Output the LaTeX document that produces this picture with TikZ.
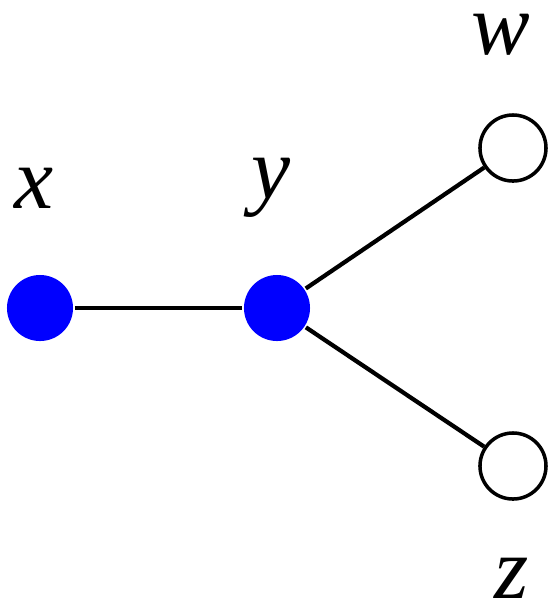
\documentclass[tikz,border=0pt]{standalone}
\usepackage{fontspec}
\usepackage{tikz}
\newfontfamily\labelfont{Liberation Serif}

\begin{document}
\begin{tikzpicture}[
    x=0.01cm, y=-0.01cm,
    vertex/.style={circle, minimum size=0.66cm, inner sep=0pt, line width=1pt},
    marked/.style={vertex, fill=blue},
    open/.style={vertex, draw=black, fill=white},
    vlabel/.style={inner sep=0pt, font=\labelfont\itshape\fontsize{25}{28}\selectfont},
    edge/.style={line width=1.2pt}
]
    \useasboundingbox (0,0) rectangle (560,614);
    % Vertices
    \node [marked] (x) at (40,308) {};
    \node [marked] (y) at (277,308) {};
    \node [open] (w) at (513,148) {};
    \node [open] (z) at (513,466) {};
    % Labels
    \node [vlabel] (xl) at (34,188) {x};
    \node [vlabel] (yl) at (271,188) {y};
    \node [vlabel] (wl) at (501,35) {w};
    \node [vlabel] (zl) at (512,578) {z};
    % Edges
    \draw [edge] (x) -- (y);
    \draw [edge] (y) -- (w);
    \draw [edge] (y) -- (z);
\end{tikzpicture}
\end{document}
